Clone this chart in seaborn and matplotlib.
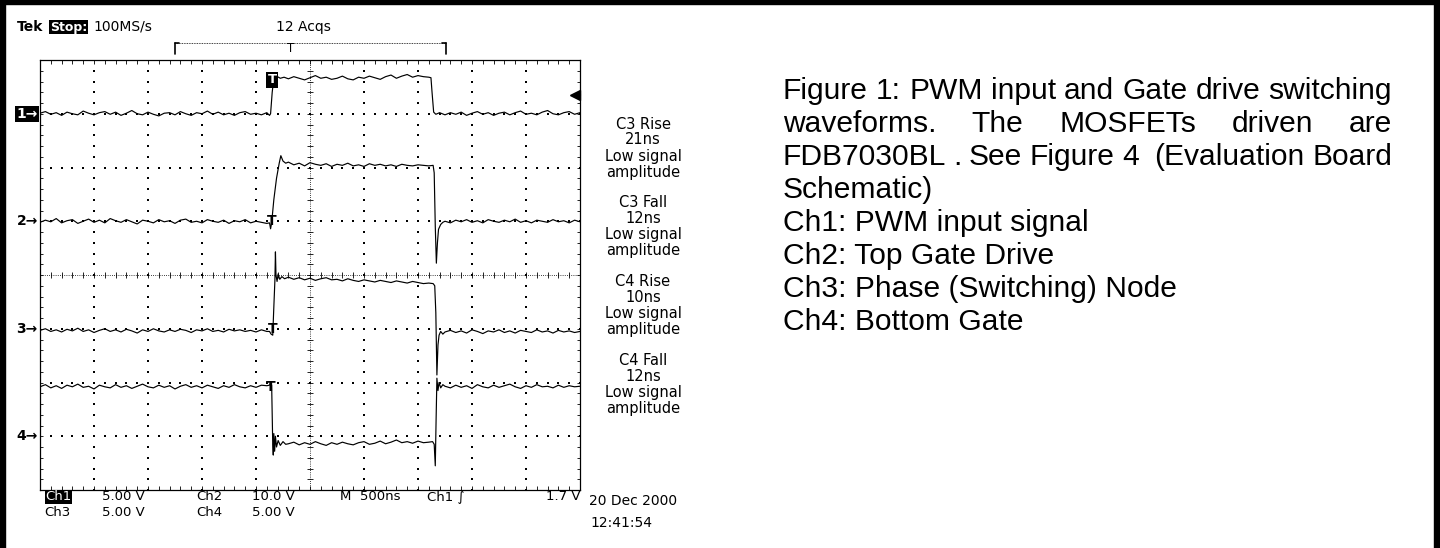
import re
import numpy as np
import matplotlib.pyplot as plt
import seaborn as sns
from matplotlib.collections import LineCollection
from matplotlib.lines import Line2D
from matplotlib.patches import Rectangle

# ---- scope record, in screen divisions (x: 0..10 at 500 ns/div, y: -4..4) ----
t_pre = [0.0, 0.1, 0.2, 0.3, 0.4, 0.5, 0.6, 0.7, 0.8, 0.9, 1.0, 1.1, 1.2, 1.3, 1.4,
         1.5, 1.6, 1.7, 1.8, 1.9, 2.0, 2.1, 2.2, 2.3, 2.4, 2.5, 2.6, 2.7, 2.8, 2.9,
         3.0, 3.1, 3.2, 3.3, 3.4, 3.5, 3.6, 3.7, 3.8, 3.9, 4.0, 4.1, 4.2]
t_mid = [4.6, 4.7, 4.8, 4.9, 5.0, 5.1, 5.2, 5.3, 5.4, 5.5, 5.6, 5.7, 5.8, 5.9,
         6.0, 6.1, 6.2, 6.3, 6.4, 6.5, 6.6, 6.7, 6.8, 6.9, 7.0, 7.1, 7.2]
t_post = [7.5, 7.6, 7.7, 7.8, 7.9, 8.0, 8.1, 8.2, 8.3, 8.4, 8.5, 8.6, 8.7,
          8.8, 8.9, 9.0, 9.1, 9.2, 9.3, 9.4, 9.5, 9.6, 9.7, 9.8, 9.9, 10.0]

# Ch1: PWM input
ch1_pre = [3.01, 3.04, 2.99, 3.02, 2.97, 3.03, 3.00, 2.98, 3.05, 3.01,
           2.98, 3.02, 3.04, 2.99, 3.03, 2.97, 3.01, 3.06, 3.00, 2.98,
           3.03, 2.99, 2.96, 3.01, 3.02, 2.98, 3.04, 3.00, 2.97, 3.02,
           3.00, 3.05, 2.99, 3.03, 2.98, 3.01, 2.97, 3.02, 3.04, 2.99,
           3.01, 2.98, 3.02]
ch1_e1_t = [4.25, 4.27, 4.30, 4.33, 4.38, 4.45, 4.52]
ch1_e1_v = [2.97, 3.00, 3.40, 3.66, 3.70, 3.66, 3.68]
ch1_mid = [3.65, 3.69, 3.66, 3.63, 3.67, 3.71, 3.66, 3.68, 3.64, 3.66,
           3.70, 3.65, 3.63, 3.68, 3.66, 3.70, 3.67, 3.64, 3.69, 3.72,
           3.66, 3.70, 3.73, 3.68, 3.71, 3.69, 3.68]
ch1_e2_t = [7.24, 7.26, 7.29, 7.33, 7.40]
ch1_e2_v = [3.67, 3.40, 3.03, 2.99, 3.02]
ch1_post = [2.98, 3.02, 2.99, 3.03, 2.97, 3.01, 3.04, 2.99, 3.02, 2.97,
            3.01, 3.03, 2.98, 3.02, 3.05, 2.99, 3.01, 2.98, 3.03, 3.06,
            3.00, 2.98, 3.02, 3.04, 2.99, 3.02]

# Ch2: top gate drive
ch2_pre = [0.98, 1.02, 0.99, 1.05, 0.97, 1.01, 1.03, 0.96, 1.00, 1.04,
           0.98, 1.02, 0.97, 1.05, 1.01, 0.98, 1.03, 0.99, 0.95, 1.02,
           1.00, 0.97, 1.03, 0.99, 1.01, 0.96, 1.02, 1.04, 0.98, 1.00,
           0.97, 1.03, 1.00, 0.98, 1.02, 0.96, 1.01, 0.99, 1.03, 0.97,
           1.00, 0.98, 0.96]
ch2_e1_t = [4.25, 4.27, 4.29, 4.33, 4.38, 4.43, 4.46, 4.50, 4.55]
ch2_e1_v = [0.97, 0.86, 0.97, 1.40, 1.80, 2.08, 2.22, 2.12, 2.08]
ch2_mid = [2.10, 2.05, 2.08, 2.03, 2.09, 2.06, 2.04, 2.07, 2.02, 2.06,
           2.04, 2.08, 2.03, 2.05, 2.02, 2.07, 2.04, 2.06, 2.03, 2.05,
           2.02, 2.06, 2.04, 2.03, 2.05, 2.04, 2.03]
ch2_e2_t = [7.28, 7.30, 7.32, 7.34, 7.36, 7.38, 7.42, 7.46]
ch2_e2_v = [2.04, 1.90, 0.90, 0.22, 0.60, 0.85, 0.94, 0.98]
ch2_post = [1.00, 0.97, 1.02, 0.99, 1.03, 0.98, 1.01, 0.97, 1.03, 1.00,
            0.98, 1.02, 0.99, 1.04, 0.98, 1.01, 0.97, 1.02, 1.00, 0.98,
            1.03, 0.99, 1.01, 0.97, 1.02, 0.99]

# Ch3: phase (switching) node
ch3_pre = [-1.03, -1.00, -1.05, -1.02, -1.06, -1.01, -1.04, -0.99, -1.05, -1.02,
           -1.07, -1.03, -1.00, -1.05, -1.02, -1.06, -1.01, -1.04, -1.08, -1.02,
           -1.05, -1.00, -1.04, -1.06, -1.02, -1.05, -1.01, -1.03, -1.07, -1.02,
           -1.04, -1.00, -1.05, -1.03, -1.06, -1.01, -1.04, -1.02, -1.05, -1.03,
           -1.06, -1.02, -1.05]
ch3_e1_t = [4.25, 4.28, 4.31, 4.33, 4.35, 4.36, 4.37, 4.39, 4.41, 4.44, 4.48, 4.53]
ch3_e1_v = [-1.05, -1.10, -1.12, -0.60, -0.10, 0.43, 0.00, -0.12, 0.02, -0.08, -0.03, -0.07]
ch3_mid = [-0.04, -0.08, -0.05, -0.09, -0.06, -0.10, -0.07, -0.05, -0.09, -0.08,
           -0.11, -0.07, -0.10, -0.12, -0.09, -0.11, -0.13, -0.10, -0.12, -0.14,
           -0.11, -0.13, -0.15, -0.12, -0.14, -0.16, -0.15]
ch3_e2_t = [7.28, 7.31, 7.33, 7.35, 7.37, 7.39, 7.42, 7.46]
ch3_e2_v = [-0.16, -0.20, -0.70, -1.86, -1.30, -1.12, -1.05, -1.10]
ch3_post = [-1.06, -1.03, -1.07, -1.04, -1.08, -1.02, -1.05, -1.09, -1.04, -1.06,
            -1.02, -1.07, -1.04, -1.08, -1.03, -1.05, -1.07, -1.02, -1.06, -1.04,
            -1.08, -1.03, -1.06, -1.04, -1.07, -1.05]

# Ch4: bottom gate
ch4_pre = [-2.08, -2.04, -2.10, -2.06, -2.11, -2.05, -2.08, -2.03, -2.09, -2.07,
           -2.12, -2.05, -2.08, -2.10, -2.04, -2.09, -2.06, -2.11, -2.07, -2.03,
           -2.08, -2.10, -2.05, -2.09, -2.06, -2.12, -2.07, -2.04, -2.09, -2.06,
           -2.10, -2.05, -2.08, -2.11, -2.06, -2.09, -2.04, -2.08, -2.10, -2.06,
           -2.09, -2.05, -2.06]
ch4_e1_t = [4.25, 4.27, 4.29, 4.30, 4.31, 4.32, 4.33, 4.345, 4.36, 4.38, 4.41, 4.45, 4.50, 4.55]
ch4_e1_v = [-2.05, -2.00, -2.05, -2.60, -3.15, -3.35, -2.95, -3.28, -3.00, -3.20, -3.08, -3.17, -3.10, -3.15]
ch4_mid = [-3.14, -3.11, -3.16, -3.12, -3.15, -3.10, -3.14, -3.17, -3.12, -3.15,
           -3.11, -3.14, -3.16, -3.12, -3.10, -3.15, -3.13, -3.09, -3.14, -3.11,
           -3.07, -3.12, -3.10, -3.13, -3.09, -3.12, -3.11]
ch4_e2_t = [7.27, 7.30, 7.32, 7.335, 7.35, 7.37, 7.39, 7.42, 7.46]
ch4_e2_v = [-3.10, -3.15, -3.55, -2.70, -1.92, -2.15, -2.00, -2.10, -2.04]
ch4_post = [-2.07, -2.10, -2.05, -2.09, -2.06, -2.11, -2.04, -2.08, -2.10, -2.05,
            -2.09, -2.06, -2.03, -2.08, -2.11, -2.06, -2.09, -2.04, -2.08, -2.07,
            -2.10, -2.05, -2.09, -2.06, -2.08, -2.07]

# channel ground markers, cursors, trigger
ch_names = ['1', '2', '3', '4']
ch_ground = [3.0, 1.0, -1.0, -3.0]
cursor_t = [4.285, 4.30, 4.28]          # "T" cursors on ch2, ch3, ch4
cursor_top = [1.13, -0.87, -1.95]
trig_t, trig_ch1 = 4.30, 3.63
trig_level_v = 1.7
ch1_v_per_div = 5.0

# readouts
meas_names = ['C3 Rise', 'C3 Fall', 'C4 Rise', 'C4 Fall']
meas_values = ['21ns', '12ns', '10ns', '12ns']
row1 = [('Ch1', 45), ('5.00 V', 102), ('Ch2', 196), ('10.0 V', 252), ('M  500ns', 340), ('Ch1 \u222b', 427)]
row2 = [('Ch3', 44), ('5.00 V', 102), ('Ch4', 196), ('5.00 V', 252)]
date_str, time_str = '20 Dec 2000', '12:41:54'

caption = ['Figure 1: PWM input and Gate drive switching',
           'waveforms.  The  MOSFETs  driven  are',
           'FDB7030BL . See Figure 4  (Evaluation Board',
           'Schematic)',
           'Ch1: PWM input signal',
           'Ch2: Top Gate Drive',
           'Ch3: Phase (Switching) Node',
           'Ch4: Bottom Gate']
justified = [True, True, True, False, False, False, False, False]

sns.set_style('white')
plt.rcParams['font.family'] = ['DejaVu Sans']
plt.rcParams['text.color'] = 'black'

W, H = 1440, 548
def px(x, y):
    return x / W, 1 - y / H

fig = plt.figure(figsize=(W / 100, H / 100), dpi=100)
ax = fig.add_axes([40 / W, 1 - 490 / H, 540 / W, 430 / H])
ax.set_xlim(0, 10)
ax.set_ylim(-4, 4)
ax.set_xticks([])
ax.set_yticks([])
for s in ax.spines.values():
    s.set_color('black')
    s.set_linewidth(0.9)

# graticule
hx = np.round(np.arange(0, 10.001, 0.2), 2)
vy = np.round(np.arange(-4, 4.001, 0.2), 2)
for gx in [1, 2, 3, 4, 6, 7, 8, 9]:
    ax.scatter(np.full(len(vy), gx), vy, s=0.6, marker='s', color='black', linewidths=0)
for gy in [-3, -2, -1, 1, 2, 3]:
    ax.scatter(hx, np.full(len(hx), gy), s=0.6, marker='s', color='black', linewidths=0)
ax.axhline(0, color='black', lw=0.6, ls=(0, (1, 1.6)))
ax.axvline(5, color='black', lw=0.6, ls=(0, (1, 1.6)))
segs = []
for y in vy:
    segs += [[(0, y), (0.06, y)], [(9.94, y), (10, y)], [(4.94, y), (5.06, y)]]
for x in hx:
    segs += [[(x, -4), (x, -3.93)], [(x, 3.93), (x, 4)], [(x, -0.06), (x, 0.06)]]
ax.add_collection(LineCollection(segs, colors='black', linewidths=0.6))

# traces
traces = [
    (ch1_pre, ch1_e1_t, ch1_e1_v, ch1_mid, ch1_e2_t, ch1_e2_v, ch1_post),
    (ch2_pre, ch2_e1_t, ch2_e1_v, ch2_mid, ch2_e2_t, ch2_e2_v, ch2_post),
    (ch3_pre, ch3_e1_t, ch3_e1_v, ch3_mid, ch3_e2_t, ch3_e2_v, ch3_post),
    (ch4_pre, ch4_e1_t, ch4_e1_v, ch4_mid, ch4_e2_t, ch4_e2_v, ch4_post),
]
for pre, e1t, e1v, mid, e2t, e2v, post in traces:
    t = t_pre + e1t + t_mid + e2t + t_post
    v = pre + e1v + mid + e2v + post
    sns.lineplot(x=t, y=v, ax=ax, color='black', linewidth=0.85,
                 estimator=None, sort=False, zorder=3)
ax.set_xlabel('')
ax.set_ylabel('')

# channel markers
for i, (name, g) in enumerate(zip(ch_names, ch_ground)):
    if i == 0:
        ax.text(-0.04, g, name + '\u2192', ha='right', va='center', fontsize=10,
                color='white', fontweight='bold', clip_on=False,
                bbox=dict(boxstyle='square,pad=0.08', fc='black', ec='none'))
    else:
        ax.text(-0.04, g, name + '\u2192', ha='right', va='center', fontsize=10,
                fontweight='bold', clip_on=False)
for ct, cy in zip(cursor_t, cursor_top):
    ax.text(ct, cy, 'T', ha='center', va='top', fontsize=10, fontweight='bold', zorder=4)
ax.text(trig_t, trig_ch1, 'T', ha='center', va='center', fontsize=9.5, color='white',
        fontweight='bold', zorder=5,
        bbox=dict(boxstyle='square,pad=0.12', fc='black', ec='none'))
trig_y = ch_ground[0] + trig_level_v / ch1_v_per_div
ax.plot([9.93, 10.0], [trig_y, trig_y], color='black', lw=1.6, clip_on=False)
ax.plot([9.9], [trig_y], marker='<', ms=7, color='black', clip_on=False)

# header
fig.text(*px(17, 27), 'Tek', fontsize=10, fontweight='bold', va='center')
fig.text(*px(50, 27), 'Stop:', fontsize=9, fontweight='bold', va='center', color='white',
         bbox=dict(boxstyle='square,pad=0.05', fc='black', ec='none'))
fig.text(*px(93, 27), '100MS/s', fontsize=10, va='center')
fig.text(*px(303, 27), '12 Acqs', fontsize=10, va='center', ha='center')
fig.add_artist(Line2D([175 / W, 446 / W], [1 - 43 / H] * 2, color='black', lw=0.6, ls=(0, (1, 1))))
fig.add_artist(Line2D([175 / W] * 2, [1 - 43 / H, 1 - 54 / H], color='black', lw=1.2))
fig.add_artist(Line2D([175 / W, 179 / W], [1 - 43 / H] * 2, color='black', lw=1.2))
fig.add_artist(Line2D([446 / W] * 2, [1 - 43 / H, 1 - 54 / H], color='black', lw=1.2))
fig.add_artist(Line2D([442 / W, 446 / W], [1 - 43 / H] * 2, color='black', lw=1.2))
fig.text(*px(291, 49), 'T', fontsize=8.5, ha='center', va='center')

# measurement readouts
for k, (nm, val) in enumerate(zip(meas_names, meas_values)):
    for j, line in enumerate([nm, val, 'Low signal', 'amplitude']):
        fig.text(*px(643, 124 + 78.7 * k + 16 * j), line, fontsize=10.5,
                 ha='center', va='center')

# bottom readouts
for i, (s, x) in enumerate(row1):
    kw = {}
    if i == 0:
        kw = dict(color='white', bbox=dict(boxstyle='square,pad=0.02', fc='black', ec='none'))
    fig.text(*px(x, 497), s, fontsize=9.5, va='center', **kw)
for s, x in row2:
    fig.text(*px(x, 513), s, fontsize=9.5, va='center')
fig.text(*px(580, 497), '1.7 V', fontsize=9.5, va='center', ha='right')
fig.text(*px(589, 501), date_str, fontsize=10, va='center')
fig.text(*px(590, 523), time_str, fontsize=10, va='center')

# caption, justified like the source document
renderer = fig.canvas.get_renderer()
cap_kw = dict(family=['Liberation Sans', 'DejaVu Sans'])

def text_w(s, size):
    tt = fig.text(0, 0, s, fontsize=size, **cap_kw)
    w = tt.get_window_extent(renderer=renderer).width
    tt.remove()
    return w

left, right = 783, 1392
size = 20 * (right - left) / text_w(caption[0], 20)
for i, (line, just) in enumerate(zip(caption, justified)):
    yb = 99 + 33 * i
    if not just:
        fig.text(*px(left, yb), line, fontsize=size, va='baseline', **cap_kw)
        continue
    extra = (right - left) - text_w(line, size)
    nsp = line.count(' ')
    for m in re.finditer(r'\S+', line):
        word = m.group()
        start = text_w(line[:m.end()], size) - text_w(word, size)
        xs = left + start + extra * line[:m.start()].count(' ') / nsp
        fig.text(*px(xs, yb), word, fontsize=size, va='baseline', **cap_kw)

# page frame
fig.add_artist(Rectangle((0, 0), 5 / W, 1, transform=fig.transFigure, color='black'))
fig.add_artist(Rectangle((0, 1 - 4 / H), 1, 4 / H, transform=fig.transFigure, color='black'))
fig.add_artist(Rectangle((1434 / W, 0), 5 / W, 1, transform=fig.transFigure, color='black'))

fig.savefig('out.png', dpi=100)
